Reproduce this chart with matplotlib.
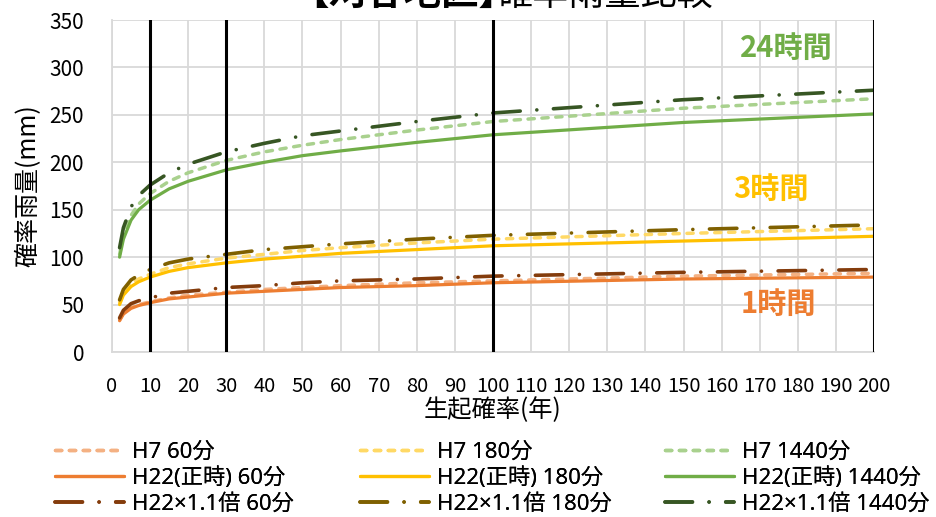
import numpy as np
import matplotlib
matplotlib.use("Agg")
from matplotlib import pyplot as plt

plt.rcParams['font.family'] = ['Noto Sans CJK JP', 'DejaVu Sans']

# return period (years)
years = [2, 3, 5, 7, 10, 15, 20, 30, 40, 50, 60, 80, 100, 150, 200]

# 60 min
h7_60 = [34, 41, 47, 50, 53, 57, 60, 63, 66, 68, 70, 73, 75, 80, 83]
h22_60 = [33, 40, 46, 49, 52, 56, 58, 62, 64, 66, 68, 70, 73, 77, 79]
h22x_60 = [36, 44, 51, 54, 57, 62, 64, 68, 70, 73, 75, 77, 80, 84, 87]
# 180 min
h7_180 = [52, 62, 72, 77, 82, 89, 93, 99, 103, 107, 110, 115, 119, 125, 130]
h22_180 = [50, 60, 69, 74, 79, 85, 89, 94, 98, 101, 104, 108, 112, 117, 122]
h22x_180 = [55, 66, 76, 81, 87, 94, 98, 103, 108, 111, 114, 119, 123, 129, 134]
# 1440 min
h7_1440 = [103, 123, 144, 156, 167, 180, 189, 202, 211, 218, 224, 234, 243, 257, 267]
h22_1440 = [100, 119, 139, 150, 160, 172, 180, 192, 200, 207, 212, 221, 229, 242, 251]
h22x_1440 = [110, 131, 153, 165, 176, 189, 198, 211, 220, 228, 233, 243, 252, 266, 276]

marker_years = [10, 30, 100, 200]

labels = ["H7 60分", "H22(正時) 60分", "H22×1.1倍 60分",
          "H7 180分", "H22(正時) 180分", "H22×1.1倍 180分",
          "H7 1440分", "H22(正時) 1440分", "H22×1.1倍 1440分"]

fig = plt.figure(figsize=(9.37, 5.17), dpi=100)
ax = fig.add_axes([0.1195, 0.3191, 0.8133, 0.6422])

dash_short = (1.8, 2.2)
dash_long = (7.6, 4.6, 0.01, 4.6)

groups = [
    (h7_60, h22_60, h22x_60, '#F4B183', '#ED7D31', '#843C0C'),
    (h7_180, h22_180, h22x_180, '#FFD966', '#FFC000', '#7F6000'),
    (h7_1440, h22_1440, h22x_1440, '#A9D18E', '#70AD47', '#375623'),
]

handles = []
for h7, h22, h22x, c1, c2, c3 in groups:
    l1, = ax.plot(years, h7, color=c1, lw=2.5, dashes=dash_short,
                  dash_capstyle='round')
    l2, = ax.plot(years, h22, color=c2, lw=2.3, solid_capstyle='round')
    l3, = ax.plot(years, h22x, color=c3, lw=2.6, dashes=dash_long,
                  dash_capstyle='round')
    handles += [l1, l2, l3]

for yr in marker_years:
    ax.axvline(yr, color='black', lw=2.2, zorder=5)

ax.set_xlim(0, 200)
ax.set_ylim(0, 350)
ax.set_xticks(np.arange(0, 201, 10))
ax.set_yticks(np.arange(0, 351, 50))
ax.grid(True, color='#D9D9D9', lw=1.3)
ax.set_axisbelow(True)
for s in ['top', 'right']:
    ax.spines[s].set_visible(False)
for s in ['left', 'bottom']:
    ax.spines[s].set_color('#D9D9D9')
    ax.spines[s].set_linewidth(1.3)
ax.tick_params(axis='x', length=0, pad=17, labelsize=14.5)
ax.tick_params(axis='y', length=0, pad=20, labelsize=15)

ax.set_xlabel("生起確率(年)", fontsize=17.5, labelpad=0)
ax.set_ylabel("確率雨量(mm)", fontsize=18, labelpad=6)

ax.text(177, 320, "24時間", color='#70AD47', fontsize=21, fontweight='bold',
        ha='center', va='center')
ax.text(173, 172, "3時間", color='#FFC000', fontsize=21, fontweight='bold',
        ha='center', va='center')
ax.text(175, 51, "1時間", color='#ED7D31', fontsize=21, fontweight='bold',
        ha='center', va='center')

# title, cut off at the top edge as in the original
fig.text(0.551, 0.99, "【刈谷地区】", fontsize=27, fontweight='bold',
         ha='right', va='baseline')
fig.text(0.530, 0.99, "確率雨量比較", fontsize=26, ha='left', va='baseline')

# legend: one block per duration, laid out in three columns
leg_x = [55, 360, 665]
leg_font = {'family': ['Noto Sans', 'Noto Sans CJK JP'], 'size': 16}
for i in range(3):
    leg = fig.legend(handles[3 * i:3 * i + 3], labels[3 * i:3 * i + 3],
                     loc='center left', bbox_to_anchor=(leg_x[i] / 937, 0.0754),
                     frameon=False, prop=leg_font, borderpad=0,
                     borderaxespad=0, handlelength=3.1, handletextpad=0.35,
                     labelspacing=0.2)
    fig.add_artist(leg)

fig.savefig("out.png", dpi=100)
